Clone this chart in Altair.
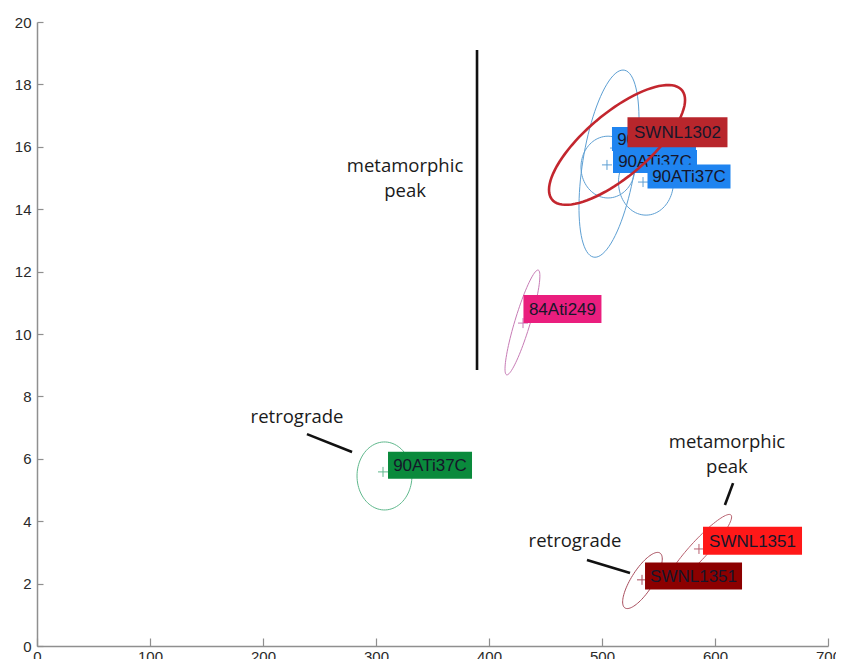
import altair as alt
import pandas as pd

# ---------------- data ----------------
# error ellipses: centre and two conjugate semi-axis vectors (data units)
ell_id = ["b1", "b2", "b3", "p249", "g37", "r1351p", "r1351r", "r1302"]
ell_cx = [506.2, 505.3, 538.9, 429.6, 307.5, 585.8, 535.8, 513.3]
ell_cy = [15.46, 15.35, 14.87, 10.37, 5.45, 3.08, 2.10, 16.06]
ell_ax = [12.4, 23.9, 24.3, 13.7, 24.3, 28.3, 15.5, 60.2]
ell_ay = [3.0, 0.0, 0.0, 1.68, 0.0, 1.12, 0.88, 1.44]
ell_bx = [23.5, 0.0, 0.0, 7.1, 0.0, 5.9, 8.2, 0.0]
ell_by = [0.0, 0.99, 1.06, 0.0, 1.09, -0.195, -0.19, 1.27]
param_deg = list(range(0, 361, 4))

# sample means (crosses)
cross_id = ["b1", "b2", "b3", "p249", "g37", "r1351p", "r1351r"]
cross_x = [511.5, 504.4, 536.3, 430.1, 306.2, 585.8, 535.4]
cross_y = [15.96, 15.42, 14.87, 10.35, 5.58, 3.11, 2.12]

# sample labels
label_id = ["b1", "b2", "r1302", "b3", "p249", "g37", "r1351p", "r1351r"]
label_text = ["90ATi37C", "90ATi37C", "SWNL1302", "90ATi37C", "84Ati249",
              "90ATi37C", "SWNL1351", "SWNL1351"]
label_x = [546.0, 546.9, 566.8, 577.0, 465.0, 347.8, 633.2, 581.0]
label_y = [16.25, 15.53, 16.47, 15.05, 10.80, 5.79, 3.37, 2.24]

# annotations
ann_text = ["metamorphic", "peak", "retrograde", "metamorphic", "peak", "retrograde"]
ann_x = [325.7, 325.7, 230.1, 610.6, 610.6, 476.1]
ann_y = [15.38, 14.58, 7.34, 6.54, 5.74, 3.37]

seg_x = [389.4, 238.9, 616.0, 486.7]
seg_y = [19.10, 6.79, 5.22, 2.76]
seg_x2 = [389.4, 278.8, 608.8, 524.8]
seg_y2 = [8.85, 6.22, 4.52, 2.34]

x_ticks = [0, 100, 200, 300, 400, 500, 600, 700]
y_ticks = [0, 2, 4, 6, 8, 10, 12, 14, 16, 18, 20]

# ---------------- styles ----------------
ids = ["b1", "b2", "b3", "p249", "g37", "r1351p", "r1351r", "r1302"]
line_colors = ["#5d9fd3", "#5d9fd3", "#5d9fd3", "#c77bb5", "#5fb88c",
               "#b8606e", "#a84c5c", "#c3262e"]
box_colors = {"b1": "#1f84f0", "b2": "#1f84f0", "b3": "#1f84f0",
              "r1302": "#b8262c", "p249": "#ea1e7e", "g37": "#0a8a3c",
              "r1351p": "#ff1818", "r1351r": "#8c0000"}
box_size = {"b1": (84, 24), "b2": (84, 23), "b3": (83, 24), "r1302": (100, 30),
            "p249": (78, 28), "g37": (84, 27), "r1351p": (99, 28), "r1351r": (97, 27)}

W, H = 791, 624
XS = alt.Scale(domain=[0, 700], nice=False, zero=False)
YS = alt.Scale(domain=[0, 20], nice=False, zero=False)
CS = alt.Scale(domain=ids, range=line_colors)
GREY = "#8f8f8f"

def X(f, axis=None):
    return alt.X(f, type="quantitative", scale=XS, axis=axis)

def Y(f, axis=None):
    return alt.Y(f, type="quantitative", scale=YS, axis=axis)

# ---------------- tables ----------------
ell_rows = []
for i, e in enumerate(ell_id):
    for d in param_deg:
        ell_rows.append(dict(id=e, cx=ell_cx[i], cy=ell_cy[i], ax=ell_ax[i],
                             ay=ell_ay[i], bx=ell_bx[i], by=ell_by[i], deg=d))
ell_df = pd.DataFrame(ell_rows)
cross_df = pd.DataFrame(dict(id=cross_id, x=cross_x, y=cross_y))
lab_df = pd.DataFrame(dict(id=label_id, text=label_text, x=label_x, y=label_y))
ann_df = pd.DataFrame(dict(text=ann_text, x=ann_x, y=ann_y))
seg_df = pd.DataFrame(dict(x=seg_x, y=seg_y, x2=seg_x2, y2=seg_y2))

ell_base = alt.Chart(ell_df).transform_calculate(
    ex="datum.cx + datum.ax*cos(datum.deg*PI/180) + datum.bx*sin(datum.deg*PI/180)",
    ey="datum.cy + datum.ay*cos(datum.deg*PI/180) + datum.by*sin(datum.deg*PI/180)",
)

axis_x_lab = alt.Axis(values=x_ticks, ticks=False, domain=True, domainColor=GREY,
                      domainWidth=1.5, labelFont="Liberation Sans", labelFontSize=15,
                      labelColor="#2a2a2a", labelPadding=3, grid=False, title=None,
                      orient="bottom", labelFlush=False)
axis_y_lab = alt.Axis(values=y_ticks, ticks=False, domain=True, domainColor=GREY,
                      domainWidth=1.5, labelFont="Liberation Sans", labelFontSize=15,
                      labelColor="#2a2a2a", labelPadding=6, grid=False, title=None,
                      orient="left", labelFlush=False)
axis_x_tick = alt.Axis(values=x_ticks, ticks=True, tickSize=8, tickColor=GREY,
                       tickWidth=1.2, labels=False, domain=False, offset=-8,
                       grid=False, title=None, orient="bottom")
axis_y_tick = alt.Axis(values=y_ticks, ticks=True, tickSize=6, tickColor=GREY,
                       tickWidth=1.2, labels=False, domain=False, offset=-6,
                       grid=False, title=None, orient="left")

thin = ell_base.transform_filter("datum.id != 'r1302'").mark_line(strokeWidth=1).encode(
    x=X("ex:Q", axis_x_lab), y=Y("ey:Q", axis_y_lab),
    color=alt.Color("id:N", scale=CS, legend=None),
    detail="id:N", order=alt.Order("deg:Q"),
)
thick = ell_base.transform_filter("datum.id == 'r1302'").mark_line(strokeWidth=2.6).encode(
    x=X("ex:Q"), y=Y("ey:Q"),
    color=alt.Color("id:N", scale=CS, legend=None),
    order=alt.Order("deg:Q"),
)
crosses = alt.Chart(cross_df).mark_point(
    shape="M-1,0L1,0M0,-1L0,1", size=100, filled=False, strokeWidth=1, opacity=1
).encode(
    x=X("x:Q", axis_x_tick), y=Y("y:Q", axis_y_tick),
    color=alt.Color("id:N", scale=CS, legend=None),
)

def label_layers(lid):
    d = lab_df[lab_df["id"] == lid]
    w, h = box_size[lid]
    box = alt.Chart(d).mark_rect(width=w, height=h, color=box_colors[lid]).encode(
        x=X("x:Q"), y=Y("y:Q"))
    txt = alt.Chart(d).mark_text(font="Liberation Sans", fontSize=17, color="#16162a",
                                 align="center", baseline="middle", dy=1).encode(
        x=X("x:Q"), y=Y("y:Q"), text="text:N")
    return [box, txt]

segs = alt.Chart(seg_df).mark_rule(strokeWidth=2.6, color="#111111").encode(
    x=X("x:Q"), y=Y("y:Q"), x2="x2:Q", y2="y2:Q")
anns = alt.Chart(ann_df).mark_text(font="Open Sans", fontSize=18.5, color="#1a1a1a",
                                   align="center", baseline="middle").encode(
    x=X("x:Q"), y=Y("y:Q"), text="text:N")

layers = [thin, crosses]
layers += label_layers("b1") + label_layers("b2")
layers += [thick]
for lid in ["r1302", "b3", "p249", "g37", "r1351p", "r1351r"]:
    layers += label_layers(lid)
layers += [segs, anns]

chart = alt.layer(*layers).resolve_axis(x="independent", y="independent").properties(
    width=W, height=H,
    padding={"left": 29, "top": 14, "right": 8, "bottom": 13},
    autosize=alt.AutoSizeParams(type="none"),
).configure_view(stroke=None)

chart.save("out.html", embed_options={"renderer": "svg", "actions": False})
